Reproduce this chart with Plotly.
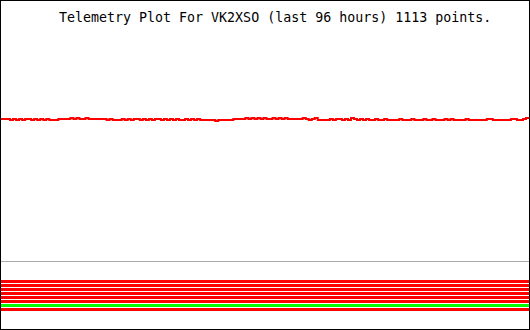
import numpy as np
import plotly.graph_objects as go

TITLE = "Telemetry Plot For VK2XSO (last 96 hours) 1113 points."

# Analog channel readings (volts), oldest -> newest
B, D, U, DD = 14.25, 14.15, 14.35, 14.05
analog_values = [
    B, B, B,
    D, B, D, B, D, B, B, D, B, D, B, D, B, D,
    D, D,
    B, B, B, B,
    U, B, U, B, B, U, B,
    B, B, B, B,
    B, D, B,
    D, D, D,
    B, D, B, D, B, B, D, B, D, B, D, B, B, D, B, D, B, D, B, D,
    D, B, D, B, D, B, D, D,
    D, D, D, DD, D,
    D, D, D, D, B,
    B, B, B, U, B,
    U, B, U, B, U, B, B, U, B, U, B, U, B,
    B, B, B, B,
    U, B, D, B, U,
    D, D, D, D, B, D, B,
    B, D, B, D, U, B, D, B,
    D, B, D, D, B, D, D, B, D, D,
    D, D, B, D, D, D, B, D, D, D,
    B, D, D, B, D, D, D, B, D, B,
    D, D, D, D, B, D, D, D, D, D,
    D, B, B, D, D, D, D, D, D, B,
    B, D, D, B, U, B,
]

# Time window (hours)
hours_start = -96
hours_end = 0

# Digital bits B1..B8 (1 = set)
bit_names = ["B1", "B2", "B3", "B4", "B5", "B6", "B7", "B8"]
bit_states = [1, 1, 1, 1, 1, 1, 0, 1]
bit_colors = {1: "#ff0000", 0: "#00ff00"}

baseline_value = 0.0

times = np.linspace(hours_start, hours_end, len(analog_values))

fig = go.Figure()

fig.add_trace(go.Scatter(
    x=times, y=analog_values, mode="lines",
    line=dict(color="#ff0000", width=2, shape="hv"),
    hoverinfo="skip", showlegend=False, xaxis="x", yaxis="y",
))

for k, (name, state) in enumerate(zip(bit_names, bit_states), start=1):
    fig.add_trace(go.Scatter(
        x=[hours_start, hours_end], y=[k, k], mode="lines", name=name,
        line=dict(color=bit_colors[state], width=3),
        hoverinfo="skip", showlegend=False, xaxis="x", yaxis="y2",
    ))

fig.add_shape(type="line", xref="paper", yref="y", x0=0, x1=1,
              y0=baseline_value, y1=baseline_value,
              line=dict(color="#aaaaaa", width=1))

fig.add_annotation(text=TITLE, xref="paper", yref="paper", x=0.519, y=0.951,
                   xanchor="center", yanchor="middle", showarrow=False,
                   font=dict(family="DejaVu Sans Mono", size=13.3, color="#000000"))

fig.update_layout(
    width=530, height=330,
    margin=dict(l=1, r=1, t=1, b=1, pad=0),
    paper_bgcolor="#000000", plot_bgcolor="#ffffff",
    showlegend=False,
    xaxis=dict(range=[hours_start, hours_end], visible=False, showgrid=False, zeroline=False),
    yaxis=dict(range=[-6.75, 26.05], visible=False, showgrid=False, zeroline=False),
    yaxis2=dict(range=[12.875, -69.125], overlaying="y", visible=False,
                showgrid=False, zeroline=False),
)

fig.write_html("out.html", config={"displayModeBar": False, "staticPlot": True})
